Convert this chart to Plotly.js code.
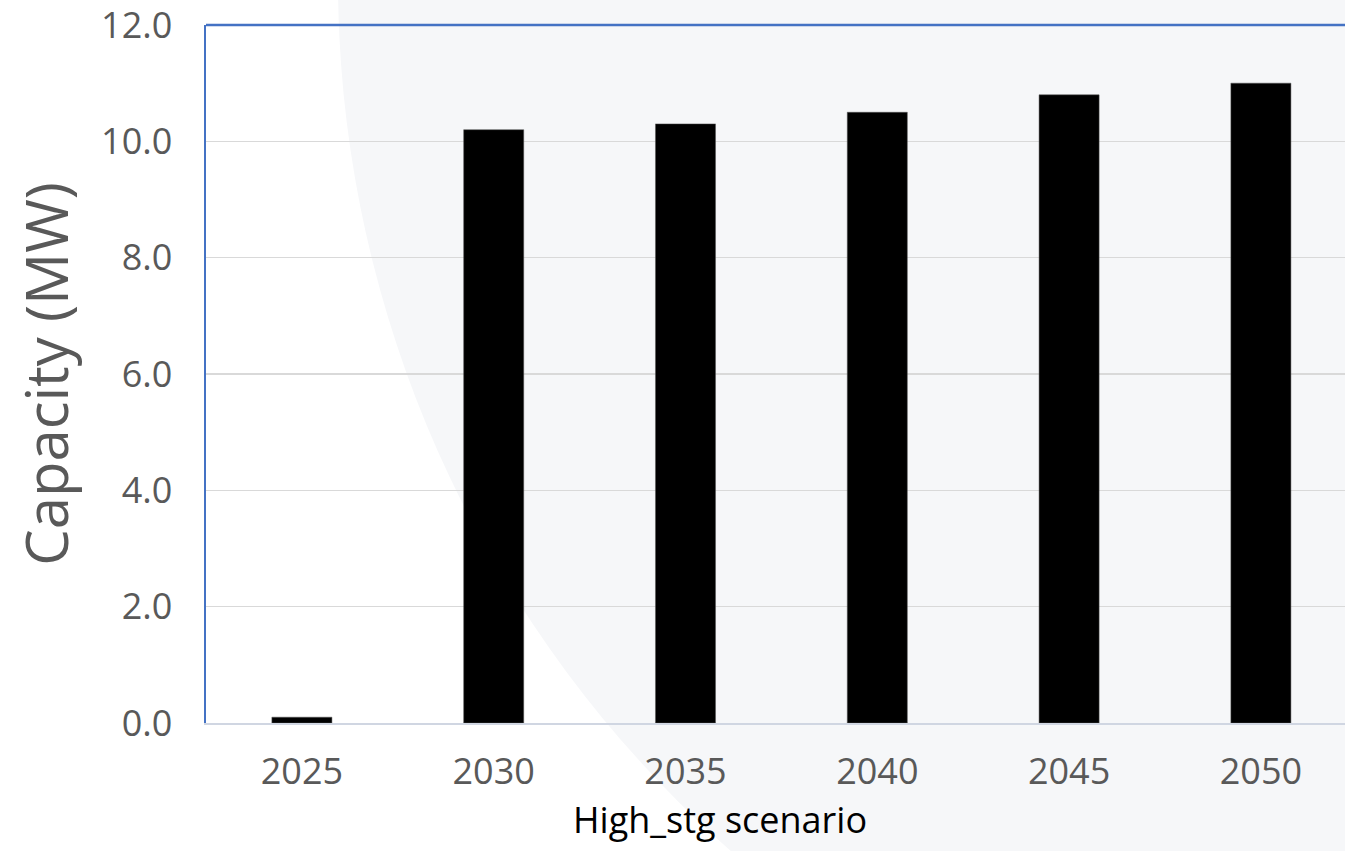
<!DOCTYPE html>
<html>
<head>
<meta charset="utf-8">
<script src="https://cdn.plot.ly/plotly-3.0.1.min.js"></script>
<style>html,body{margin:0;padding:0;overflow:hidden;background:#fff;}</style>
</head>
<body>
<div id="chart" style="width:1345px;height:851px;"></div>
<script>
const years = ['2025', '2030', '2035', '2040', '2045', '2050'];
const capacity = [0.1, 10.2, 10.3, 10.5, 10.8, 11.0];
const yTicks = [0, 2, 4, 6, 8, 10, 12];
const yTickLabels = ['0.0', '2.0', '4.0', '6.0', '8.0', '10.0', '12.0'];
const xTitle = 'High_stg scenario';
const yTitle = 'Capacity (MW)';

const W = 1345, H = 851;
const mL = 206, mT = 25, mB = 128, mR = 0;
const plotW = W - mL - mR, plotH = H - mT - mB;
// decorative background circle (pixels -> paper)
const cx = 1500, cy = -20, r = 1162;
const px2x = p => (p - mL) / plotW;
const py2y = p => (H - mB - p) / plotH;

const data = [{
  type: 'bar',
  x: years,
  y: capacity,
  marker: {color: '#000000', line: {color: '#555555', width: 0.5}},
  hoverinfo: 'x+y'
}];

const layout = {
  width: W, height: H,
  margin: {l: mL, r: mR, t: mT, b: mB, pad: 0},
  paper_bgcolor: '#ffffff',
  plot_bgcolor: 'rgba(0,0,0,0)',
  showlegend: false,
  bargap: 0.687,
  font: {family: 'Open Sans, sans-serif', color: '#595959'},
  xaxis: {
    type: 'category',
    range: [-0.5, -0.5 + plotW / 191.8],
    showgrid: false,
    zeroline: false,
    showline: true,
    linecolor: '#d0d6e2',
    linewidth: 2,
    ticks: '',
    ticklabelstandoff: 16,
    tickfont: {size: 36, color: '#595959', family: 'Open Sans, sans-serif'}
  },
  yaxis: {
    range: [0, 12],
    tickvals: yTicks,
    ticktext: yTickLabels,
    ticklabeloverflow: 'allow',
    showgrid: true,
    gridcolor: '#d9d9d9',
    gridwidth: 1.5,
    zeroline: false,
    showline: true,
    linecolor: '#4472c4',
    linewidth: 2.5,
    ticks: '',
    ticklabelstandoff: 24,
    tickfont: {size: 36, color: '#595959', family: 'Open Sans, sans-serif'},
    title: {text: yTitle, font: {size: 58, color: '#595959', family: 'Open Sans, sans-serif'}, standoff: 14}
  },
  annotations: [
    {text: xTitle, xref: 'paper', yref: 'paper', x: px2x(720), y: py2y(819),
     xanchor: 'center', yanchor: 'middle', showarrow: false,
     font: {size: 36, color: '#000000', family: 'Open Sans, sans-serif'}}
  ],
  shapes: [
    {type: 'circle', xref: 'paper', yref: 'paper', layer: 'below',
     x0: px2x(cx - r), x1: px2x(cx + r), y0: py2y(cy + r), y1: py2y(cy - r),
     fillcolor: '#f6f7f9', line: {width: 0}},
    {type: 'line', xref: 'paper', yref: 'paper', x0: 0, x1: 1, y0: 1, y1: 1,
     line: {color: '#4472c4', width: 2.5}}
  ]
};

Plotly.newPlot('chart', data, layout, {displayModeBar: false, staticPlot: true});
</script>
</body>
</html>
